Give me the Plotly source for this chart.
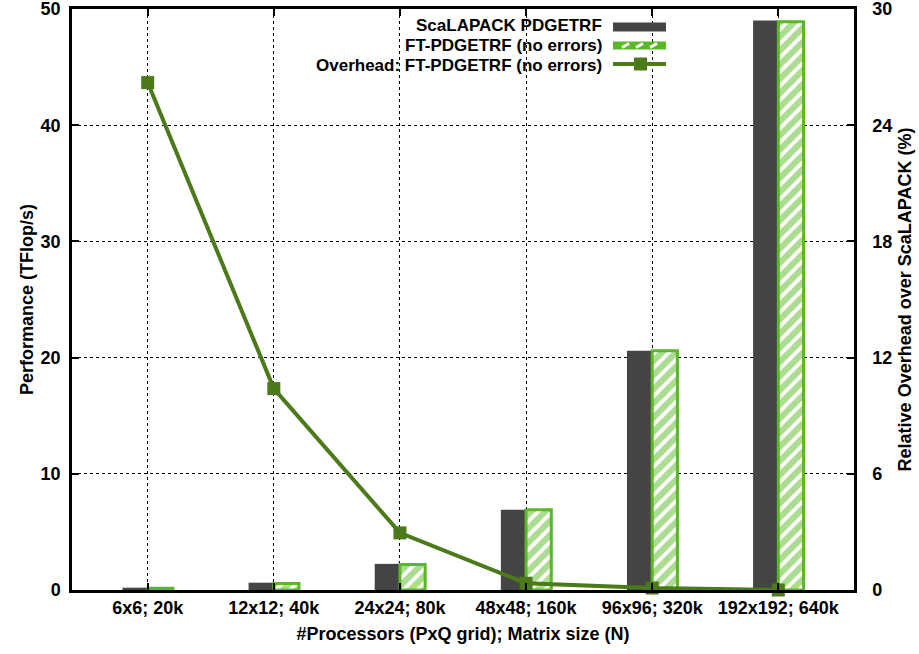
import plotly.graph_objects as go

categories = ["6x6; 20k", "12x12; 40k", "24x24; 80k", "48x48; 160k", "96x96; 320k", "192x192; 640k"]
scalapack_tflops = [0.2, 0.63, 2.25, 6.9, 20.6, 49.0]
ft_tflops = [0.15, 0.55, 2.2, 6.9, 20.6, 48.9]
overhead_pct = [26.2, 10.4, 2.95, 0.35, 0.1, 0.0]

left_ticks = [0, 10, 20, 30, 40, 50]
right_ticks = [0, 6, 12, 18, 24, 30]

DARK = "#444444"
GREEN = "#5ab726"
LINEG = "#4c7a1b"
FONT = "Liberation Sans, Arial, Helvetica, sans-serif"

L, R, T, B = 72, 65, 9, 64
W, H = 919, 654
PW, PH = W - L - R, H - T - B

def px(x):
    return (x - L) / PW

def py(y):
    return (H - B - y) / PH

fig = go.Figure()
fig.add_trace(go.Bar(
    x=categories, y=scalapack_tflops, name="ScaLAPACK PDGETRF",
    marker=dict(color=DARK, line=dict(width=0)), showlegend=False,
))
fig.add_trace(go.Bar(
    x=categories, y=ft_tflops, name="FT-PDGETRF (no errors)",
    marker=dict(color="white", line=dict(color=GREEN, width=3),
                pattern=dict(shape="/", fgcolor=GREEN, bgcolor="white", size=10, solidity=0.62)),
    showlegend=False,
))
fig.add_trace(go.Scatter(
    x=categories, y=overhead_pct, yaxis="y2", mode="lines+markers",
    name="Overhead: FT-PDGETRF (no errors)",
    line=dict(color=LINEG, width=4),
    marker=dict(symbol="square", size=13, color=LINEG),
    showlegend=False, cliponaxis=False,
))

# custom gnuplot-style legend (text right-aligned, sample on the right)
legend_rows = [
    ("ScaLAPACK PDGETRF", 25.5),
    ("FT-PDGETRF (no errors)", 45.5),
    ("Overhead: FT-PDGETRF (no errors)", 65.5),
]
annotations = []
for text, yc in legend_rows:
    annotations.append(dict(
        x=px(603), y=py(yc), xref="paper", yref="paper", text=text,
        showarrow=False, xanchor="right", yanchor="middle", borderpad=0,
        font=dict(family=FONT, size=17, color="black", weight="bold"),
    ))
shapes = []
sx0, sx1 = px(613), px(666)
shapes.append(dict(type="rect", xref="paper", yref="paper", x0=sx0, x1=sx1,
                   y0=py(31.5), y1=py(22.5), fillcolor=DARK, line=dict(width=0)))
shapes.append(dict(type="rect", xref="paper", yref="paper", x0=sx0, x1=sx1,
                   y0=py(49.5), y1=py(41.5), fillcolor=GREEN, line=dict(width=0)))
for xs in (622, 636, 650):
    shapes.append(dict(type="line", xref="paper", yref="paper",
                       x0=px(xs), y0=py(47.5), x1=px(xs + 7), y1=py(43.5),
                       line=dict(color="white", width=3)))
shapes.append(dict(type="line", xref="paper", yref="paper", x0=sx0, x1=sx1,
                   y0=py(64), y1=py(64), line=dict(color=LINEG, width=4)))
shapes.append(dict(type="rect", xref="paper", yref="paper", x0=px(634), x1=px(647),
                   y0=py(70.5), y1=py(57.5), fillcolor=LINEG, line=dict(width=0)))

tickfont = dict(family=FONT, size=18, color="black", weight="bold")
titlefont = dict(family=FONT, size=18, color="black", weight="bold")

fig.update_layout(
    width=W, height=H,
    margin=dict(l=L, r=R, t=T, b=B, pad=0),
    paper_bgcolor="white", plot_bgcolor="white",
    barmode="group", bargap=0.6, bargroupgap=0,
    annotations=annotations, shapes=shapes,
    xaxis=dict(
        type="category", range=[-0.6, 5.6], automargin=False,
        showline=True, linecolor="black", linewidth=2.5, mirror="ticks",
        ticks="inside", ticklen=7, tickwidth=2, tickcolor="black",
        showgrid=True, gridcolor="black", gridwidth=1, griddash="dot",
        tickfont=tickfont, ticklabelstandoff=0, ticklabeloverflow="allow",
        title=dict(text="#Processors (PxQ grid); Matrix size (N)", font=titlefont, standoff=11),
        zeroline=False,
    ),
    yaxis=dict(
        range=[0, 50], tickvals=left_ticks, automargin=False,
        showline=True, linecolor="black", linewidth=2.5, mirror=False,
        ticks="inside", ticklen=7, tickwidth=2, tickcolor="black",
        showgrid=True, gridcolor="black", gridwidth=1, griddash="dot",
        tickfont=tickfont, ticklabelstandoff=5, ticklabeloverflow="allow",
        title=dict(text="Performance (TFlop/s)", font=titlefont, standoff=3),
        zeroline=False,
    ),
    yaxis2=dict(
        range=[0, 30], tickvals=right_ticks, overlaying="y", side="right", automargin=False,
        showline=True, linecolor="black", linewidth=2.5,
        ticks="inside", ticklen=7, tickwidth=2, tickcolor="black",
        showgrid=False, tickfont=tickfont, ticklabelstandoff=12, ticklabeloverflow="allow",
        title=dict(text="Relative Overhead over ScaLAPACK (%)", font=titlefont, standoff=8),
        zeroline=False,
    ),
)

fig.write_html("out.html", config={"displayModeBar": False},
               post_script="document.body.style.margin='0';")
